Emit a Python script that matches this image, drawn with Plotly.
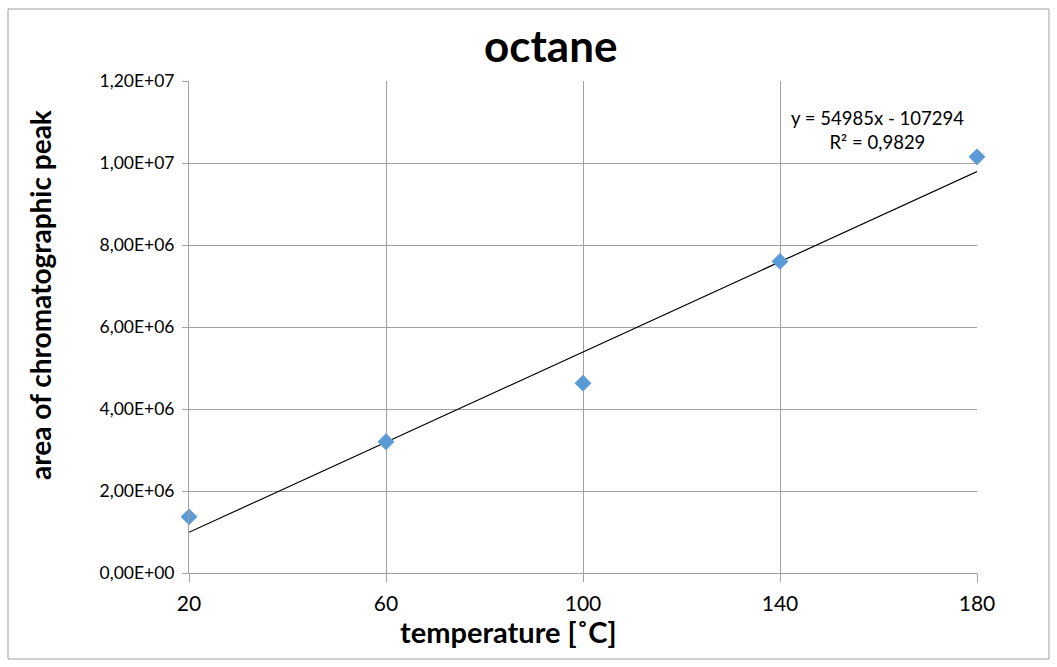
import plotly.graph_objects as go

temperature = [20, 60, 100, 140, 180]
peak_area = [1.37e6, 3.2e6, 4.63e6, 7.6e6, 1.015e7]
slope = 54985
intercept = -107294
y_tick_vals = [0, 2e6, 4e6, 6e6, 8e6, 1e7, 1.2e7]
y_tick_text = ["0,00E+00", "2,00E+06", "4,00E+06", "6,00E+06", "8,00E+06", "1,00E+07", "1,20E+07"]
x_tick_vals = [20, 60, 100, 140, 180]

FONT = "Lato, 'Open Sans', sans-serif"

trend_x = [temperature[0], temperature[-1]]
trend_y = [slope * x + intercept for x in trend_x]

fig = go.Figure()
fig.add_trace(go.Scatter(x=trend_x, y=trend_y, mode="lines",
                         line=dict(color="black", width=1.2), showlegend=False, hoverinfo="skip"))
fig.add_trace(go.Scatter(x=temperature, y=peak_area, mode="markers", cliponaxis=False,
                         marker=dict(symbol="diamond", size=13, color="#5B9BD5"), showlegend=False))

L, R, T, B = 189, 80, 81, 94
W, H = 1057, 667
pw, ph = W - L - R, H - T - B

def px(x):
    return (x - L) / pw

def py(y):
    return (H - B - y) / ph

fig.update_layout(
    width=W, height=H,
    margin=dict(l=L, r=R, t=T, b=B),
    paper_bgcolor="white", plot_bgcolor="white",
    font=dict(family=FONT, color="black"),
    xaxis=dict(range=[20, 180], tickvals=x_tick_vals, showgrid=True, gridcolor="#A0A0A0", gridwidth=1,
               zeroline=False, showline=True, linecolor="#A0A0A0", ticks="outside", ticklen=8,
               tickcolor="#A0A0A0", tickfont=dict(size=21, family=FONT), ticklabelstandoff=4),
    yaxis=dict(range=[0, 1.2e7], tickvals=y_tick_vals, ticktext=y_tick_text, showgrid=True,
               gridcolor="#A0A0A0", gridwidth=1, zeroline=False, showline=True, linecolor="#A0A0A0",
               ticks="outside", ticklen=6, tickcolor="#A0A0A0", tickfont=dict(size=17.5, family=FONT),
               ticklabelstandoff=4),
    annotations=[
        dict(text="<b>octane</b>", x=px(551), y=py(45), xref="paper", yref="paper", showarrow=False,
             font=dict(size=44, family=FONT), xanchor="center", yanchor="middle"),
        dict(text="<b>temperature [˚C]</b>", x=px(508), y=py(631), xref="paper", yref="paper",
             showarrow=False, font=dict(size=29, family=FONT), xanchor="center", yanchor="middle"),
        dict(text="<b>area of chromatographic peak</b>", x=px(40), y=py(295), xref="paper", yref="paper",
             showarrow=False, textangle=-90, font=dict(size=28, family=FONT), xanchor="center", yanchor="middle"),
        dict(text="y = 54985x - 107294<br>R² = 0,9829", x=px(877), y=py(130), xref="paper", yref="paper",
             showarrow=False, font=dict(size=18.5, family=FONT), xanchor="center", yanchor="middle", align="center"),
    ],
    shapes=[dict(type="rect", xref="paper", yref="paper", x0=px(8), x1=px(1049), y0=py(659), y1=py(9),
                 line=dict(color="#A0A0A0", width=1), layer="below")],
)

fig.write_html("out.html", config={"displayModeBar": False},
               post_script="document.body.style.margin='0';")
